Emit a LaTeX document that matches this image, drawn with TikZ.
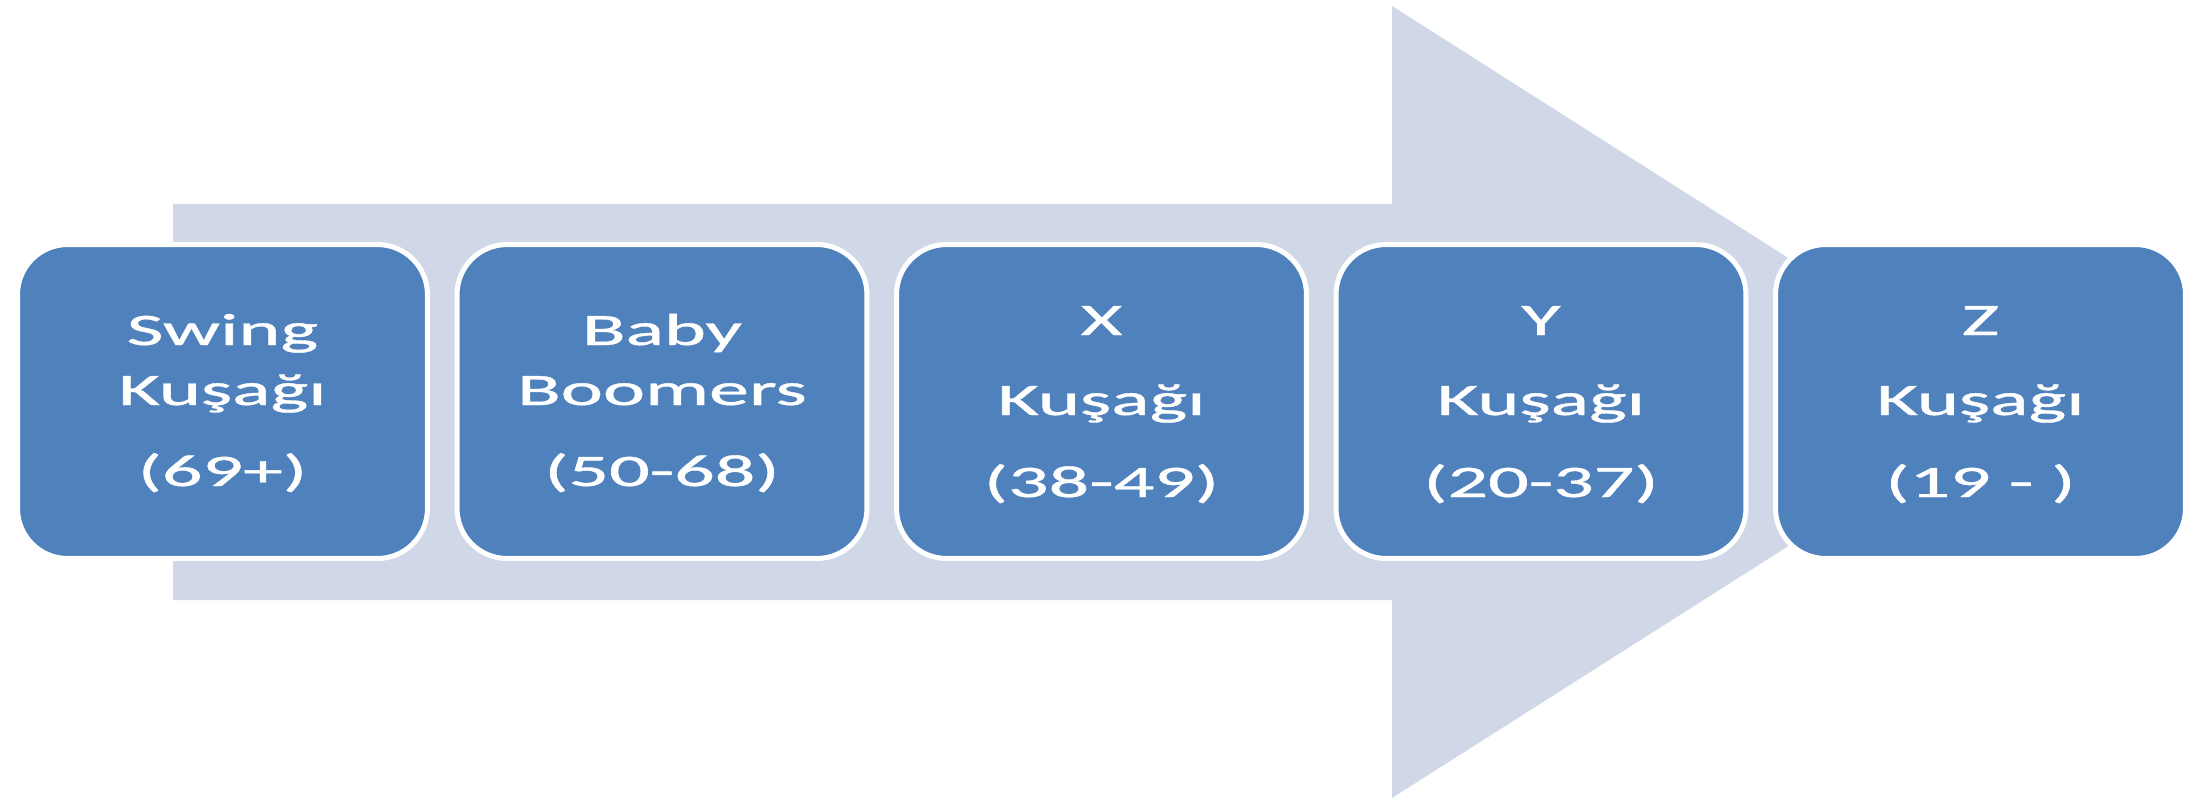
\documentclass[tikz,border=0pt]{standalone}
\usepackage{fontspec}
\setmainfont[FakeBold=0.8]{Carlito}
\definecolor{boxblue}{RGB}{79,129,189}
\definecolor{arrowgray}{RGB}{208,216,232}
\begin{document}
\begin{tikzpicture}[x=0.02cm,y=-0.02cm,
  genbox/.style={draw=white, line width=0.1cm, fill=boxblue, rounded corners=1cm,
    minimum width=8.2cm, minimum height=6.28cm, inner sep=0pt},
  gentext/.style={anchor=base, text=white, inner sep=0pt, xscale=1.78, transform shape,
    font=\fontsize{25.6}{30}\selectfont}]
\path[use as bounding box] (0,0) rectangle (2209,801);
\fill[arrowgray] (173,204) -- (1392,204) -- (1392,6) -- (2015,402) -- (1392,798) -- (1392,600) -- (173,600) -- cycle;
\node[genbox] (b1) at (222.5,401.5) {};
\node[genbox] (b2) at (662,401.5) {};
\node[genbox] (b3) at (1101.5,401.5) {};
\node[genbox] (b4) at (1541,401.5) {};
\node[genbox] (b5) at (1980.5,401.5) {};
\node[gentext] (t1a) at (222.5,345) {Swing};
\node[gentext] (t1b) at (222.5,405) {Kuşağı};
\node[gentext] (t1c) at (222.5,486) {(69+)};
\node[gentext] (t2a) at (662,345) {Baby};
\node[gentext] (t2b) at (662,405) {Boomers};
\node[gentext] (t2c) at (662,486) {(50-68)};
\node[gentext] (t3a) at (1101.5,335) {X};
\node[gentext] (t3b) at (1101.5,415) {Kuşağı};
\node[gentext] (t3c) at (1101.5,497) {(38-49)};
\node[gentext] (t4a) at (1541,335) {Y};
\node[gentext] (t4b) at (1541,415) {Kuşağı};
\node[gentext] (t4c) at (1541,497) {(20-37)};
\node[gentext] (t5a) at (1980.5,335) {Z};
\node[gentext] (t5b) at (1980.5,415) {Kuşağı};
\node[gentext] (t5c) at (1980.5,497) {(19 - )};
\end{tikzpicture}
\end{document}
